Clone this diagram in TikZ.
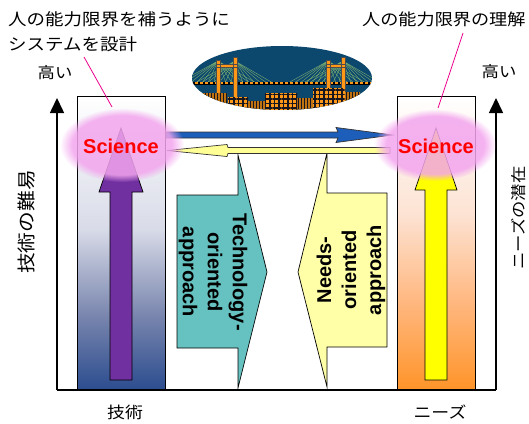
\documentclass[tikz,border=0pt]{standalone}
\usepackage{fontspec}
\setmainfont{Liberation Sans}
\newfontfamily\jpfont[FakeStretch=1.12]{Noto Sans CJK JP}
\usetikzlibrary{arrows.meta,fadings,patterns.meta}
\definecolor{sciencered}{RGB}{255,0,0}
\definecolor{glowpink}{RGB}{243,165,238}
\definecolor{techteal}{RGB}{102,194,192}
\definecolor{needsyellow}{RGB}{255,255,168}
\definecolor{lineyellow}{RGB}{255,255,150}
\definecolor{lineblue}{RGB}{28,94,186}
\definecolor{techpurple}{RGB}{112,48,160}
\definecolor{needspeak}{RGB}{255,255,0}
\definecolor{skytop}{RGB}{12,72,110}
\definecolor{skylow}{RGB}{32,130,144}
\definecolor{towerorange}{RGB}{255,152,24}
\definecolor{cablegreen}{RGB}{160,205,110}
\definecolor{citynight}{RGB}{24,22,30}
% bar fills, white at the top
\pgfdeclareverticalshading{techfill}{100bp}{rgb(0bp)=(0.17,0.30,0.56); rgb(25bp)=(0.17,0.30,0.56); rgb(37.5bp)=(0.47,0.52,0.68); rgb(52.5bp)=(0.85,0.86,0.91); rgb(75bp)=(1,1,1); rgb(100bp)=(1,1,1)}
\pgfdeclareverticalshading{needsfill}{100bp}{rgb(0bp)=(1,0.58,0.16); rgb(25bp)=(1,0.58,0.16); rgb(40bp)=(1,0.72,0.50); rgb(55bp)=(0.99,0.89,0.83); rgb(75bp)=(1,1,1); rgb(100bp)=(1,1,1)}

\begin{document}
\begin{tikzpicture}[x=1pt,y=-1pt,
 jp/.style={font=\jpfont\fontsize{#1}{25}\selectfont,inner sep=0pt},
 jp/.default=16.5,
 sci/.style={font=\bfseries\fontsize{20}{24}\selectfont,text=sciencered,inner sep=0pt},
 approach/.style={font=\bfseries\fontsize{20}{25}\selectfont,align=center,inner sep=0pt},
 blockarrow/.style={draw=black,line width=0.7pt,line join=miter},
 glow/.style={fill=glowpink,opacity=0.85,path fading=circle with fuzzy edge 20 percent},
 axisline/.style={line width=1.6pt,-{Triangle[length=15pt,width=14pt]}},
 pinline/.style={draw=magenta,line width=0.8pt},
 tower/.style={fill=towerorange,draw=black!70,line width=0.3pt}]
\useasboundingbox (0,0) rectangle (529,423);

% bridge at night
\begin{scope}
 \clip (282,78) ellipse [x radius=90pt,y radius=32pt];
 \shade[top color=skytop,middle color=skylow,bottom color=skytop] (190,44) rectangle (374,112);
 \foreach \t in {218,235,328,343}
  \foreach \d in {-40,-34,...,40}
   \draw[cablegreen,line width=0.35pt,opacity=0.8] (\t,61) -- (\t+\d,83);
 \draw[black,line width=3pt] (190,83) -- (374,83);
 \draw[towerorange,line width=1.3pt,dash pattern=on 3pt off 2pt] (190,83) -- (374,83);
 \filldraw[tower] (216,60) rectangle (220,104) (233,57) rectangle (237,104) (216,64) rectangle (237,67);
 \filldraw[tower] (326,60) rectangle (330,96) (341,57) rectangle (345,96) (326,64) rectangle (345,67);
 \foreach \xa/\xb/\yt in {190/202/100,202/227/93,248/265/101,297/313/98,345/360/92,360/374/97}{
  \fill[citynight] (\xa,\yt) rectangle (\xb,112);
  \fill[pattern={Lines[angle=90,distance=3pt,line width=1.1pt]},pattern color=towerorange!75!black] (\xa,\yt) rectangle (\xb,112);}
 \foreach \xa/\xb/\yt in {228/248/97,265/285/93,285/297/93,313/345/88}{
  \fill[towerorange] (\xa,\yt) rectangle (\xb,112);
  \fill[pattern={Hatch[angle=0,distance=4.5pt,line width=1.4pt]},pattern color=citynight] (\xa,\yt) rectangle (\xb,112);}
\end{scope}

% the two bars
\shadedraw[shading=techfill,draw=black,line width=0.6pt] (77,96) rectangle (165,390);
\shadedraw[shading=needsfill,draw=black,line width=0.6pt] (397,96) rectangle (475,390);

% axes
\coordinate (origin) at (57,390);
\coordinate (techtop) at (57,98);
\coordinate (needsbase) at (496,390);
\coordinate (needstop) at (496,98);
\draw[line width=1.6pt] (origin) -- (needsbase);
\draw[axisline] (origin) -- (techtop);
\draw[axisline] (needsbase) -- (needstop);

% approaches
\draw[blockarrow,fill=techteal] (177,195) -- (238,195) -- (238,155) -- (267,272) -- (238,388) -- (238,348) -- (177,348) -- cycle;
\draw[blockarrow,fill=needsyellow] (387,193) -- (327,193) -- (327,153) -- (298,272) -- (327,387) -- (327,347) -- (387,347) -- cycle;
\node[approach,rotate=-90] (techapp) at (213,272) {Technology-\\oriented\\approach};
\node[approach,rotate=90] (needsapp) at (351,270) {Needs-\\oriented\\approach};

% rising arrows in the bars
\draw[blockarrow,fill=techpurple] (110,380) -- (110,192) -- (99,192) -- (121,128) -- (143,192) -- (132,192) -- (132,380) -- cycle;
\draw[blockarrow,fill=needspeak] (425,380) -- (425,190) -- (415,190) -- (436,128) -- (457,190) -- (447,190) -- (447,380) -- cycle;

% exchange between the two sides
\draw[blockarrow,draw=black!80,fill=lineblue] (166,132) -- (338,132) -- (336,127.5) -- (393,135) -- (336,142.5) -- (338,138) -- (166,138) -- cycle;
\draw[blockarrow,draw=black!80,fill=lineyellow] (390,147.5) -- (228,147.5) -- (227,144.5) -- (167,150.5) -- (227,156.5) -- (228,153.5) -- (390,153.5) -- cycle;

% glow behind Science
\fill[glow] (122,145) ellipse [x radius=62pt,y radius=37pt];
\fill[glow] (435,145) ellipse [x radius=61pt,y radius=36pt];
\node[sci] (scienceL) at (121,146) {Science};
\node[sci] (scienceR) at (436,146) {Science};

% captions
\node[jp,anchor=north west,align=left] (limitdesign) at (8,11) {人の能力限界を補うように\\システムを設計};
\node[jp=16.2,anchor=north west] (limitknow) at (362,11.5) {人の能力限界の理解};
\coordinate (designpin) at (84,57);
\coordinate (glowLtop) at (112,107);
\coordinate (knowpin) at (463,33);
\coordinate (glowRtop) at (438,108);
\draw[pinline] (designpin) -- (glowLtop);
\draw[pinline] (knowpin) -- (glowRtop);

\node[jp=15.5] (highL) at (55,73) {高い};
\node[jp=15.5] (highR) at (499,72) {高い};
\node[jp=18.5,rotate=90] (techaxis) at (27,222) {技術の難易};
\node[jp=15.5,rotate=90] (needsaxis) at (519,218) {ニーズの潜在};
\node[jp=16] (techlabel) at (125,412) {技術};
\node[jp=16] (needslabel) at (440,412) {ニーズ};
\end{tikzpicture}
\end{document}
